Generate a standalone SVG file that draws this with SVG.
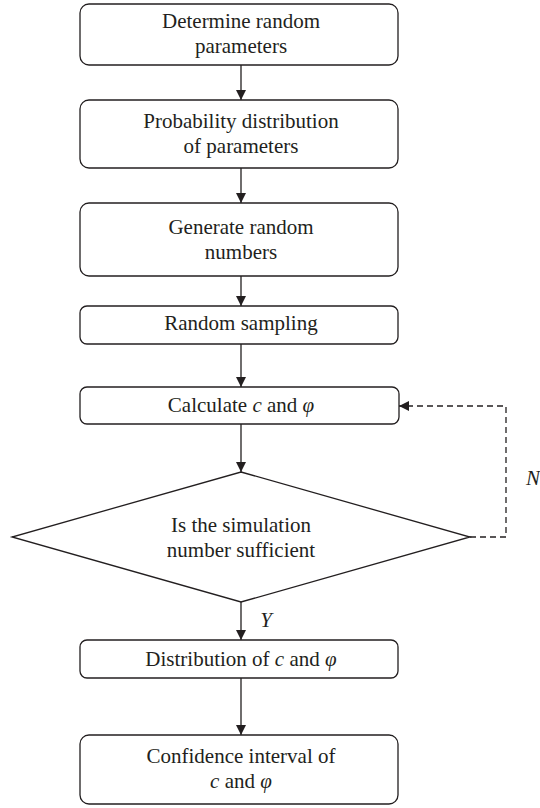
<svg xmlns="http://www.w3.org/2000/svg" width="540" height="808" viewBox="0 0 540 808">
<style>
.box{fill:#fff;stroke:#231f20;stroke-width:1.3}
.t{font-family:"Liberation Serif","Times New Roman",serif;font-size:21px;fill:#231f20;text-anchor:middle}
.i{font-style:italic}
.ln{fill:none;stroke:#231f20;stroke-width:1.3}
.dash{fill:none;stroke:#231f20;stroke-width:1.3;stroke-dasharray:6 4}
</style>
<defs>
<marker id="ah" viewBox="0 0 10 10" refX="10" refY="5" markerWidth="10" markerHeight="10" markerUnits="userSpaceOnUse" orient="auto">
<path d="M0,0 L10,5 L0,10 Z" fill="#231f20"/>
</marker>
</defs>
<rect width="540" height="808" fill="#fff"/>
<g id="connectors">
<line class="ln" x1="241" y1="65" x2="241" y2="100" marker-end="url(#ah)"/>
<line class="ln" x1="241" y1="168" x2="241" y2="203" marker-end="url(#ah)"/>
<line class="ln" x1="241" y1="276" x2="241" y2="306" marker-end="url(#ah)"/>
<line class="ln" x1="241" y1="344" x2="241" y2="387" marker-end="url(#ah)"/>
<line class="ln" x1="241" y1="424" x2="241" y2="472" marker-end="url(#ah)"/>
<line class="ln" x1="241" y1="602" x2="241" y2="640" marker-end="url(#ah)"/>
<line class="ln" x1="241" y1="678" x2="241" y2="735" marker-end="url(#ah)"/>
<polyline class="dash" points="470,537 506,537 506,406 399,406" marker-end="url(#ah)"/>
<text class="t i" x="533" y="485">N</text>
<text class="t i" x="266" y="627">Y</text>
</g>
<g id="n1">
<rect class="box" x="80" y="4" width="318" height="61" rx="9"/>
<text class="t" x="241" y="28">Determine random</text>
<text class="t" x="241" y="53">parameters</text>
</g>
<g id="n2">
<rect class="box" x="80" y="100" width="318" height="68" rx="9"/>
<text class="t" x="241" y="128">Probability distribution</text>
<text class="t" x="241" y="153">of parameters</text>
</g>
<g id="n3">
<rect class="box" x="80" y="203" width="318" height="73" rx="9"/>
<text class="t" x="241" y="234">Generate random</text>
<text class="t" x="241" y="259">numbers</text>
</g>
<g id="n4">
<rect class="box" x="80" y="306" width="318" height="38" rx="7"/>
<text class="t" x="241" y="330">Random sampling</text>
</g>
<g id="n5">
<rect class="box" x="80" y="387" width="319" height="37" rx="7"/>
<text class="t" x="241" y="412">Calculate <tspan class="i">c</tspan> and <tspan class="i">φ</tspan></text>
</g>
<g id="n6">
<polygon class="box" points="241,472 470,537 241,602 12,537"/>
<text class="t" x="241" y="532">Is the simulation</text>
<text class="t" x="241" y="557">number sufficient</text>
</g>
<g id="n7">
<rect class="box" x="80" y="640" width="318" height="38" rx="7"/>
<text class="t" x="241" y="666">Distribution of <tspan class="i">c</tspan> and <tspan class="i">φ</tspan></text>
</g>
<g id="n8">
<rect class="box" x="80" y="735" width="318" height="69" rx="9"/>
<text class="t" x="241" y="763">Confidence interval of</text>
<text class="t" x="241" y="788"><tspan class="i">c</tspan> and <tspan class="i">φ</tspan></text>
</g>
</svg>
